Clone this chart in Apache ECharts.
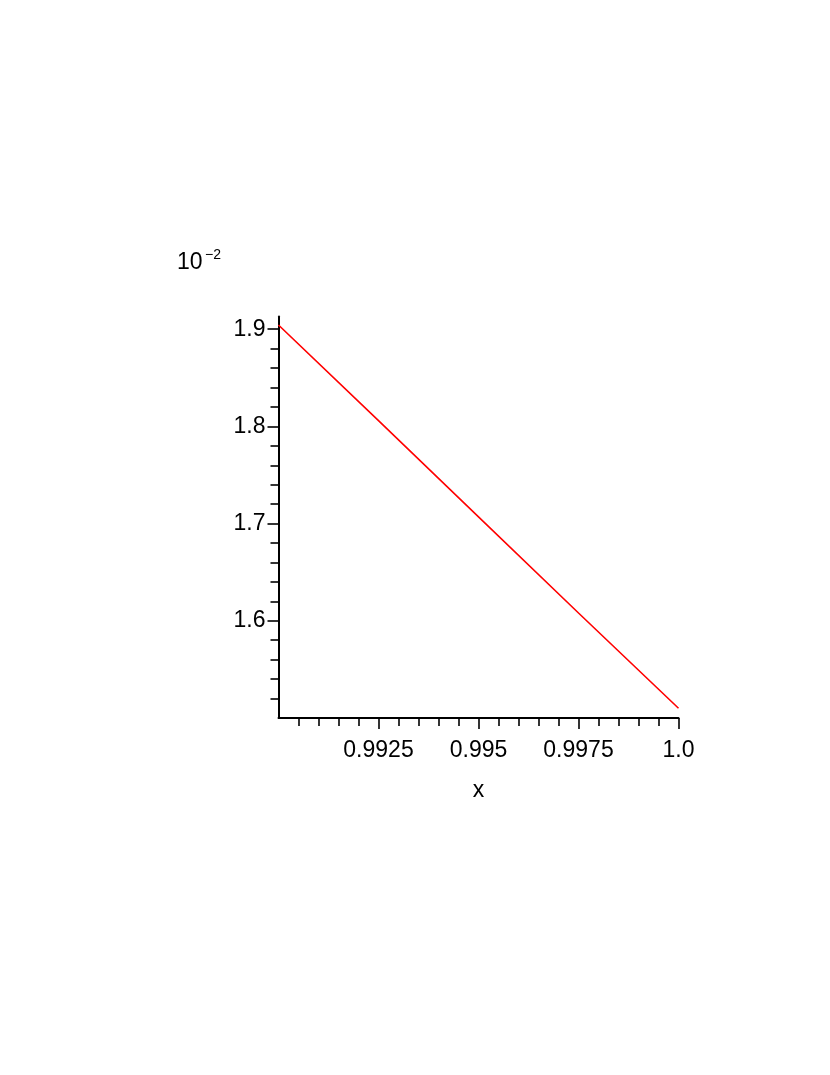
<!DOCTYPE html>
<html>
<head>
<meta charset="utf-8">
<script src="https://cdn.jsdelivr.net/npm/echarts@6/dist/echarts.min.js"></script>
<style>
html,body{margin:0;padding:0;background:#fff;}
#chart{width:830px;height:1075px;}
</style>
</head>
<body>
<div id="chart"></div>
<script>
// Data
const xValues = [0.99, 0.9925, 0.995, 0.9975, 1.0];
const yValues = [1.9044, 1.806, 1.707, 1.608, 1.510];
const xMajorTicks = [0.9925, 0.995, 0.9975, 1.0];
const xTickLabels = ['0.9925', '0.995', '0.9975', '1.0'];
const xMinorTicks = [0.9905, 0.991, 0.9915, 0.992, 0.993, 0.9935, 0.994, 0.9945, 0.9955, 0.996, 0.9965, 0.997, 0.998, 0.9985, 0.999, 0.9995];
const yMajorTicks = [1.6, 1.7, 1.8, 1.9];
const yMajorLabels = ['1.6', '1.7', '1.8', '1.9'];
const yMinorTicks = [1.52, 1.54, 1.56, 1.58, 1.62, 1.64, 1.66, 1.68, 1.72, 1.74, 1.76, 1.78, 1.82, 1.84, 1.86, 1.88];
const xAxisName = 'x';
const yScaleBase = '10';
const yScaleExp = '\u22122';

const FONT = '"Liberation Sans", Arial, Helvetica, sans-serif';
const FS = 23;
const chart = echarts.init(document.getElementById('chart'), null, {renderer: 'canvas'});

const xMin = 0.99, xMax = 1.0;
const yMin = 1.5, yMax = 1.913;
const axisLineStyle = {color: '#000', width: 2};
const tickStyle = {color: '#000', width: 1.6};

function labelFor(ticks, labels) {
  return function (v) {
    const idx = ticks.findIndex(t => Math.abs(t - v) < 1e-7);
    return idx >= 0 ? labels[idx] : '';
  };
}

chart.setOption({
  animation: false,
  backgroundColor: '#fff',
  grid: {left: 278.5, right: 151.5, top: 316.6, bottom: 357, containLabel: false},
  xAxis: [{
    type: 'value',
    min: xMin, max: xMax,
    name: xAxisName, nameLocation: 'middle', nameGap: 61,
    nameTextStyle: {fontFamily: FONT, fontSize: FS, color: '#000'},
    axisLine: {show: true, lineStyle: axisLineStyle},
    axisTick: {show: true, length: 11, customValues: xMajorTicks, lineStyle: tickStyle},
    splitLine: {show: false},
    axisLabel: {
      margin: 21, fontFamily: FONT, fontSize: FS, color: '#000',
      customValues: xMajorTicks,
      formatter: labelFor(xMajorTicks, xTickLabels)
    }
  }, {
    type: 'value',
    min: xMin, max: xMax,
    position: 'bottom',
    axisLine: {show: false},
    axisTick: {show: true, length: 8, customValues: xMinorTicks, lineStyle: tickStyle},
    axisLabel: {show: false},
    splitLine: {show: false}
  }],
  yAxis: [{
    type: 'value',
    min: yMin, max: yMax,
    axisLine: {show: true, lineStyle: axisLineStyle},
    axisTick: {show: true, length: 11, customValues: yMajorTicks, lineStyle: tickStyle},
    splitLine: {show: false},
    axisLabel: {
      margin: 13, fontFamily: FONT, fontSize: FS, color: '#000',
      customValues: yMajorTicks,
      formatter: labelFor(yMajorTicks, yMajorLabels)
    }
  }, {
    type: 'value',
    min: yMin, max: yMax,
    position: 'left',
    axisLine: {show: false},
    axisTick: {show: true, length: 8, customValues: yMinorTicks, lineStyle: tickStyle},
    axisLabel: {show: false},
    splitLine: {show: false}
  }],
  series: [{
    type: 'line',
    xAxisIndex: 0, yAxisIndex: 0,
    data: xValues.map((x, i) => [x, yValues[i]]),
    showSymbol: false,
    symbol: 'none',
    lineStyle: {color: '#ff0000', width: 1.6},
    itemStyle: {color: '#ff0000'}
  }],
  graphic: [
    {type: 'text', left: 177, top: 251, style: {text: yScaleBase, fontFamily: FONT, fontSize: FS, fill: '#000'}},
    {type: 'text', left: 205, top: 248, style: {text: yScaleExp, fontFamily: FONT, fontSize: 14, fill: '#000'}}
  ]
});
</script>
</body>
</html>
